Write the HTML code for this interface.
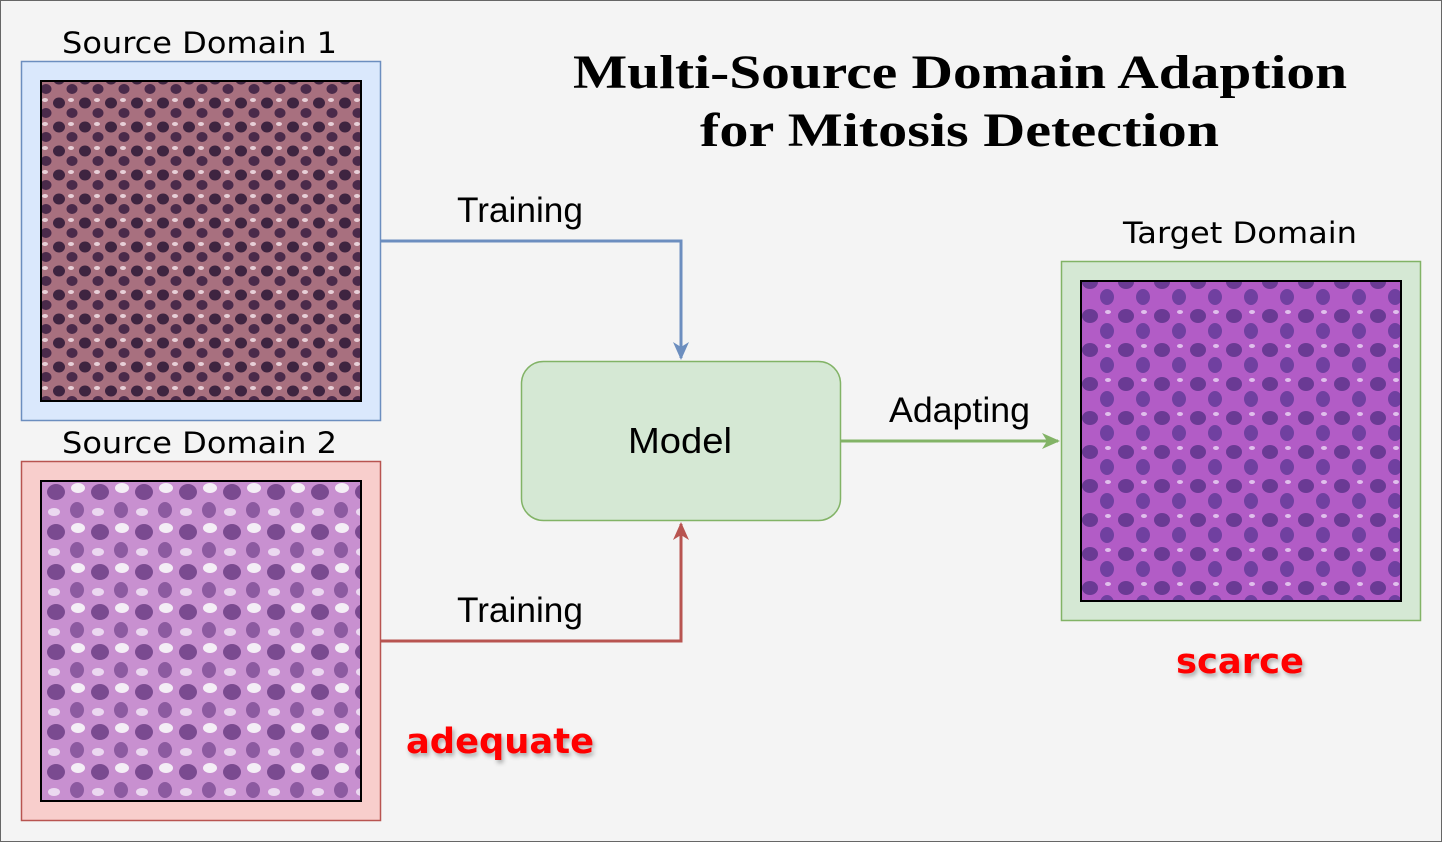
<!DOCTYPE html>
<html><head><meta charset="utf-8"><style>
html,body{margin:0;padding:0;}
body{width:1442px;height:842px;overflow:hidden;background:#fff;}
</style></head><body>
<svg width="1442" height="842" xmlns="http://www.w3.org/2000/svg">
<defs>
<pattern id="p1" width="26" height="24" patternUnits="userSpaceOnUse">
<rect width="26" height="24" fill="#a8707f"/>
<ellipse cx="7" cy="7" rx="6" ry="5.5" fill="#3e2440"/>
<ellipse cx="20" cy="17" rx="5.5" ry="5" fill="#4a2a4a"/>
<ellipse cx="19" cy="4" rx="3" ry="2" fill="#e8d0d8"/>
</pattern>
<pattern id="p2" width="44" height="40" patternUnits="userSpaceOnUse">
<rect width="44" height="40" fill="#c890d0"/>
<ellipse cx="12" cy="12" rx="9" ry="8" fill="#7a4a90"/>
<ellipse cx="33" cy="30" rx="7" ry="8" fill="#8c5aa0"/>
<ellipse cx="34" cy="8" rx="7" ry="5" fill="#f4eef6"/>
<ellipse cx="10" cy="32" rx="6" ry="4" fill="#ebd8f0"/>
</pattern>
<pattern id="p3" width="36" height="34" patternUnits="userSpaceOnUse">
<rect width="36" height="34" fill="#b25cc6"/>
<ellipse cx="10" cy="10" rx="8" ry="7" fill="#6a3a94"/>
<ellipse cx="27" cy="25" rx="7" ry="8" fill="#7040a0"/>
<ellipse cx="28" cy="6" rx="3" ry="2" fill="#e0c0ec"/>
</pattern>
<marker id="ab" markerWidth="20" markerHeight="20" refX="16" refY="8" orient="auto" markerUnits="userSpaceOnUse"><path d="M0,0 L18,8 L0,16 L5,8 z" fill="#6c8ebf"/></marker>
<marker id="ar" markerWidth="20" markerHeight="20" refX="16" refY="8" orient="auto" markerUnits="userSpaceOnUse"><path d="M0,0 L18,8 L0,16 L5,8 z" fill="#b85450"/></marker>
<marker id="ag" markerWidth="20" markerHeight="20" refX="16" refY="8" orient="auto" markerUnits="userSpaceOnUse"><path d="M0,0 L18,8 L0,16 L5,8 z" fill="#82b366"/></marker>
<filter id="sh" x="-10%" y="-30%" width="130%" height="170%"><feDropShadow dx="2" dy="3" stdDeviation="2" flood-color="#000" flood-opacity="0.3"/></filter>
</defs>
<rect x="0.5" y="0.5" width="1441" height="841" fill="#f4f4f4" stroke="#666"/>
<rect x="21.5" y="61.5" width="359" height="359" fill="#dae8fc" stroke="#6c8ebf" stroke-width="1.5"/>
<rect x="41" y="81" width="320" height="320" fill="url(#p1)" stroke="#000" stroke-width="2"/>
<rect x="21.5" y="461.5" width="359" height="359" fill="#f8cecc" stroke="#b85450" stroke-width="1.5"/>
<rect x="41" y="481" width="320" height="320" fill="url(#p2)" stroke="#000" stroke-width="2"/>
<rect x="1061.5" y="261.5" width="359" height="359" fill="#d5e8d4" stroke="#82b366" stroke-width="1.5"/>
<rect x="1081" y="281" width="320" height="320" fill="url(#p3)" stroke="#000" stroke-width="2"/>
<rect x="521.5" y="361.5" width="319" height="159" rx="22" fill="#d5e8d4" stroke="#82b366" stroke-width="1.5"/>
<text x="628" y="453" font-family="Liberation Sans, sans-serif" font-size="36" textLength="104" lengthAdjust="spacingAndGlyphs" fill="#000">Model</text>
<path d="M381,241 H681 V358" fill="none" stroke="#6c8ebf" stroke-width="3" marker-end="url(#ab)"/>
<path d="M381,641 H681 V524" fill="none" stroke="#b85450" stroke-width="3" marker-end="url(#ar)"/>
<path d="M841,441 H1058" fill="none" stroke="#82b366" stroke-width="3" marker-end="url(#ag)"/>
<g font-family="Liberation Sans, sans-serif" font-size="35" fill="#000" lengthAdjust="spacingAndGlyphs">
<text x="457" y="222" textLength="126" lengthAdjust="spacingAndGlyphs">Training</text>
<text x="457" y="622" textLength="126" lengthAdjust="spacingAndGlyphs">Training</text>
<text x="889" y="422" textLength="141" lengthAdjust="spacingAndGlyphs">Adapting</text>
</g>
<g font-family="DejaVu Sans, sans-serif" font-size="29" fill="#000">
<text x="62" y="53" textLength="275" lengthAdjust="spacingAndGlyphs">Source Domain 1</text>
<text x="62" y="453" textLength="275" lengthAdjust="spacingAndGlyphs">Source Domain 2</text>
<text x="1123" y="243" textLength="234" lengthAdjust="spacingAndGlyphs">Target Domain</text>
</g>
<g font-family="Liberation Serif, serif" font-weight="bold" font-size="48" fill="#000">
<text x="573" y="88" textLength="774" lengthAdjust="spacingAndGlyphs">Multi-Source Domain Adaption</text>
<text x="700" y="146" textLength="519" lengthAdjust="spacingAndGlyphs">for Mitosis Detection</text>
</g>
<g font-family="DejaVu Sans, sans-serif" font-weight="bold" font-size="35" fill="#ff0000" filter="url(#sh)">
<text x="406" y="753" textLength="188" lengthAdjust="spacingAndGlyphs">adequate</text>
<text x="1176" y="673" textLength="128" lengthAdjust="spacingAndGlyphs">scarce</text>
</g>
</svg>
</body></html>
